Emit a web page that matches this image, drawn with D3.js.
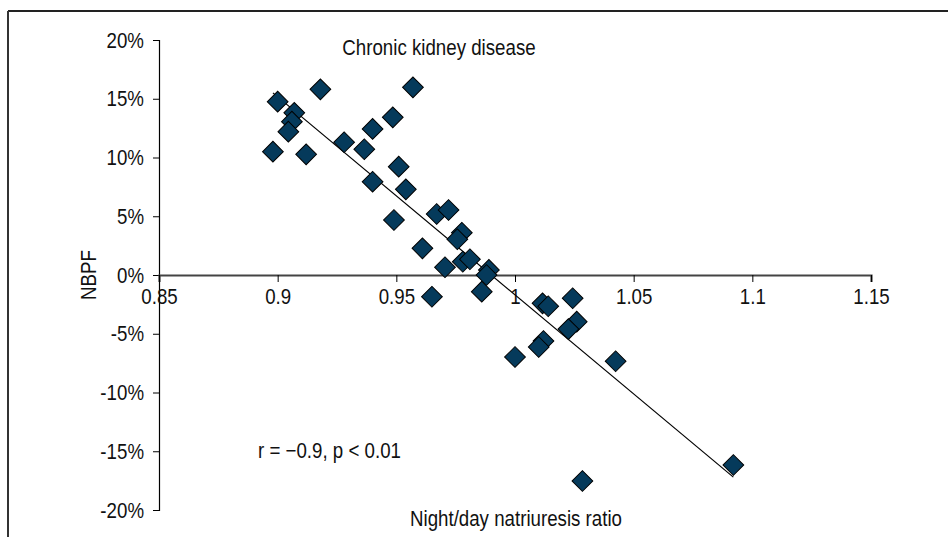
<!DOCTYPE html>
<html><head><meta charset="utf-8">
<script src="https://cdn.jsdelivr.net/npm/d3@7/dist/d3.min.js"></script>
<style>
html,body{margin:0;padding:0;background:#fff;}
svg{display:block;}
text{font-family:"Liberation Sans",Arial,sans-serif;fill:#111;}
</style></head>
<body>
<script>
// Data
const ratio = [0.900,0.918,0.957,0.907,0.906,0.9045,0.898,0.912,0.928,0.940,0.9485,0.9365,0.951,0.940,0.954,0.949,0.967,0.972,0.9776,0.9757,0.961,0.9705,0.978,0.981,0.989,0.988,0.965,0.986,1.0116,1.014,1.0243,1.026,1.0225,1.012,1.010,1.000,1.0424,1.092,1.0284];
const nbpf  = [14.75,15.8,15.97,13.8,13.05,12.2,10.5,10.27,11.3,12.43,13.42,10.7,9.22,7.94,7.29,4.68,5.19,5.53,3.6,3.04,2.27,0.66,1.13,1.34,0.43,0.0,-1.85,-1.42,-2.41,-2.66,-1.98,-3.97,-4.6,-5.62,-6.13,-6.98,-7.34,-16.17,-17.53];
const trendX = [0.898, 1.092];
const trendY = [15.5, -17.2];
const xTicks = [0.85,0.9,0.95,1,1.05,1.1,1.15];
const yTicks = [20,15,10,5,0,-5,-10,-15,-20];
const titleText = "Chronic kidney disease";
const xTitle = "Night/day natriuresis ratio";
const yTitle = "NBPF";
const statText = "r = \u22120.9, p < 0.01";

const W = 948, H = 537;
const svg = d3.select("body").append("svg").attr("width", W).attr("height", H);

// frame (top and left edges)
svg.append("line").attr("x1",8).attr("y1",11).attr("x2",W).attr("y2",11).attr("stroke","#222").attr("stroke-width",2);
svg.append("line").attr("x1",8).attr("y1",11).attr("x2",8).attr("y2",H).attr("stroke","#333").attr("stroke-width",2);

const x = d3.scaleLinear().domain([0.85,1.15]).range([159,871]);
const y = d3.scaleLinear().domain([-20,20]).range([510,40]);
const fs = 22;

// y axis
const yAxis = svg.append("g").attr("transform",`translate(${x(0.85)},0)`)
  .call(d3.axisLeft(y).tickValues(yTicks).tickSize(6).tickPadding(9).tickFormat(d => d + "%"));
yAxis.select(".domain").attr("stroke","#000").attr("stroke-width",1.2);
yAxis.selectAll(".tick line").attr("stroke","#000");
yAxis.selectAll("text").style("font-size",fs+"px").attr("fill","#111");

// x axis at y = 0
const xAxis = svg.append("g").attr("transform",`translate(0,${y(0)})`)
  .call(d3.axisBottom(x).tickValues(xTicks).tickSize(7).tickPadding(6).tickFormat(d => String(d)));
xAxis.select(".domain").attr("stroke","#444").attr("stroke-width",2.2);
xAxis.selectAll(".tick line").attr("stroke","#000");
xAxis.selectAll("text").style("font-size",fs+"px").attr("fill","#111");

// trend line
svg.append("line")
  .attr("x1",x(trendX[0])).attr("y1",y(trendY[0]))
  .attr("x2",x(trendX[1])).attr("y2",y(trendY[1]))
  .attr("stroke","#000").attr("stroke-width",1.2);

// points
const sym = d3.symbol().type(d3.symbolSquare).size(215);
svg.append("g").selectAll("path").data(ratio.map((r,i)=>[r,nbpf[i]])).join("path")
  .attr("d", sym)
  .attr("transform", d => `translate(${x(d[0])},${y(d[1])}) rotate(45)`)
  .attr("fill","#053a5b").attr("stroke","#000").attr("stroke-width",1);

// texts
svg.append("text").attr("x",439).attr("y",55).attr("text-anchor","middle").style("font-size",fs+"px").text(titleText);
svg.append("text").attr("x",516).attr("y",526).attr("text-anchor","middle").style("font-size",fs+"px").text(xTitle);
svg.append("text").attr("transform","translate(96,275) rotate(-90)").attr("text-anchor","middle").style("font-size",fs+"px").text(yTitle);
svg.append("text").attr("x",258).attr("y",458).style("font-size",fs+"px").text(statText);

// condense all text to mimic the narrow face of the original
svg.selectAll("text").each(function(){
  const len = this.getComputedTextLength();
  d3.select(this).attr("textLength", len*0.85).attr("lengthAdjust","spacingAndGlyphs");
});
</script>
</body></html>
